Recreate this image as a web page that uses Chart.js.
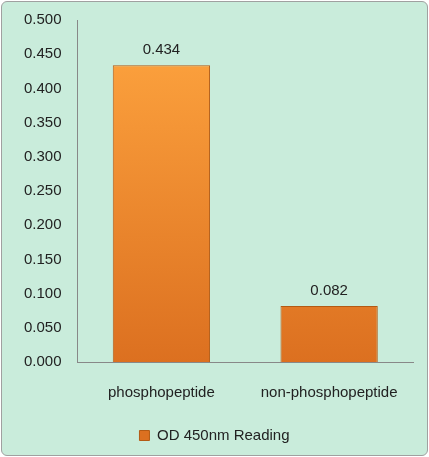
<!DOCTYPE html>
<html><head><meta charset="utf-8">
<script src="https://cdn.jsdelivr.net/npm/chart.js@4"></script>
<style>
html,body{margin:0;padding:0;background:#fff;}
#wrap{position:absolute;left:1px;top:1px;width:425px;height:453px;background:#c9ecdb;border:1px solid #a0a0a0;border-radius:6px;}
canvas{display:block;}
</style></head><body>
<div id="wrap"><canvas id="c" width="425" height="453"></canvas></div>
<script>
const categories = ["phosphopeptide", "non-phosphopeptide"];
const seriesName = "OD 450nm Reading";
const values = [0.434, 0.082];
const F = '"Liberation Sans", Arial, sans-serif';

const labelPlugin = {
  id: 'vals',
  afterDatasetsDraw(chart) {
    const ctx = chart.ctx;
    const meta = chart.getDatasetMeta(0);
    ctx.save();
    ctx.font = '15px ' + F;
    ctx.fillStyle = '#222';
    ctx.textAlign = 'center';
    ctx.textBaseline = 'bottom';
    meta.data.forEach((b, i) => ctx.fillText(values[i].toFixed(3), b.x, b.y - 8));
    ctx.restore();
  }
};

function grad(ctx) {
  const chart = ctx.chart;
  const a = chart.chartArea;
  if (!a) return '#f08a2a';
  const g = chart.ctx.createLinearGradient(0, a.top, 0, a.bottom);
  g.addColorStop(0, '#ffa640');
  g.addColorStop(1, '#dc7020');
  return g;
}

new Chart(document.getElementById('c'), {
  type: 'bar',
  data: { labels: categories, datasets: [{ label: seriesName, data: values,
    backgroundColor: grad, borderColor: '#b35a14', borderWidth: 1,
    categoryPercentage: 1.0, barPercentage: 0.58 }] },
  options: {
    responsive: false, animation: false,
    layout: { padding: { top: 18, right: 14, left: 14, bottom: 2 } },
    plugins: {
      legend: { position: 'bottom', labels: { boxWidth: 10, boxHeight: 10, color: '#222',
        font: { size: 15, family: F }, padding: 12 } },
      tooltip: { enabled: false }
    },
    scales: {
      y: { min: 0, max: 0.5, ticks: { stepSize: 0.05, color: '#222', padding: 8,
             font: { size: 15, family: F }, callback: v => v.toFixed(3) },
           grid: { display: false }, border: { color: '#888' } },
      x: { ticks: { color: '#222', padding: 14, font: { size: 15, family: F } },
           grid: { display: false }, border: { color: '#888' } }
    }
  },
  plugins: [labelPlugin]
});
</script></body></html>
